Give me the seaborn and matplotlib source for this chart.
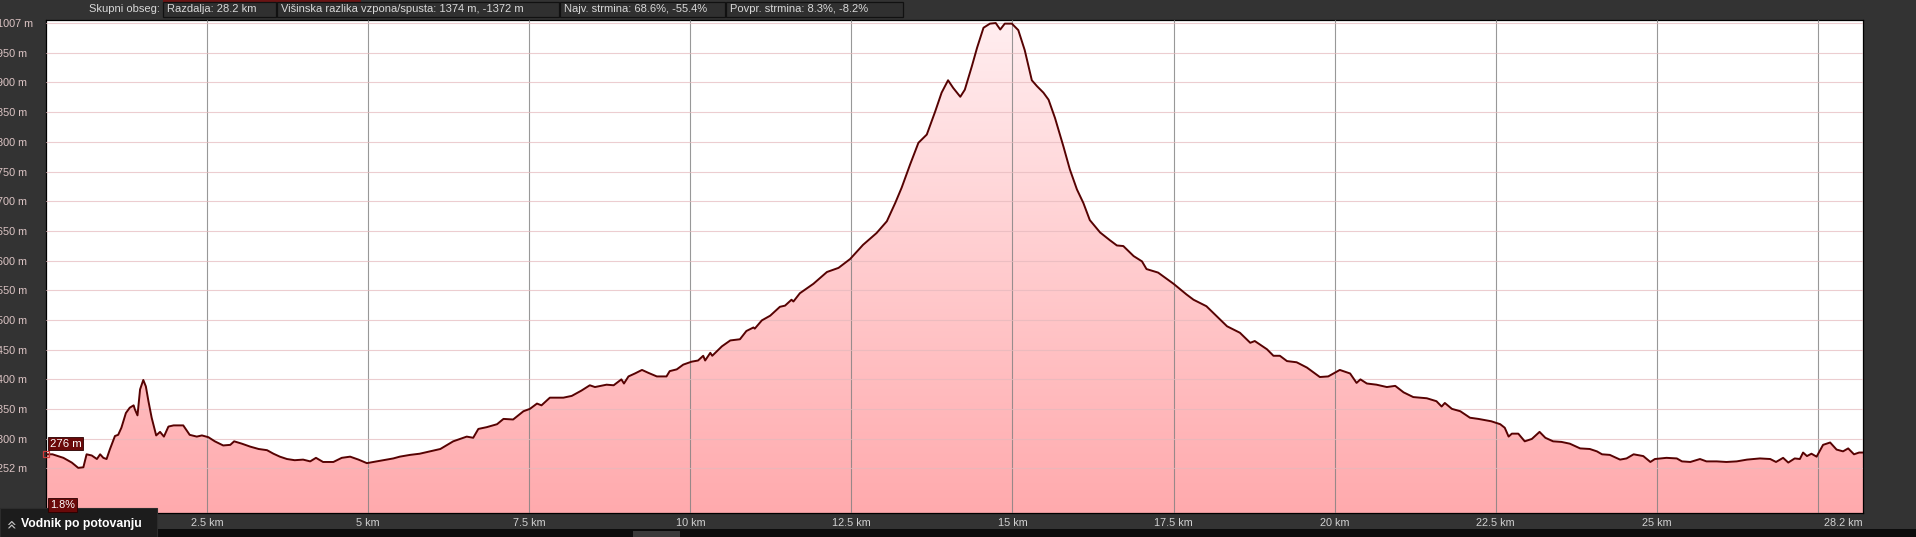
import numpy as np
import matplotlib
matplotlib.use('Agg')
import matplotlib.pyplot as plt
from matplotlib.patches import Rectangle
import seaborn as sns

# Podatki profila (razdalja v km, visina v m)
km = [0.00, 0.10, 0.27, 0.40, 0.50, 0.58, 0.63, 0.71, 0.79, 0.84, 0.89, 0.94, 0.99, 1.07, 1.12, 1.17,
      1.24, 1.30, 1.36, 1.38, 1.42, 1.46, 1.51, 1.55, 1.59, 1.64, 1.71, 1.77, 1.83, 1.90, 1.98, 2.13,
      2.23, 2.34, 2.42, 2.52, 2.62, 2.75, 2.86, 2.92, 3.04, 3.17, 3.30, 3.43, 3.53, 3.63, 3.74, 3.86,
      3.99, 4.10, 4.19, 4.30, 4.46, 4.59, 4.72, 4.85, 4.98, 5.08, 5.24, 5.39, 5.49, 5.65, 5.80, 6.12,
      6.32, 6.53, 6.63, 6.71, 6.84, 7.00, 7.10, 7.25, 7.41, 7.51, 7.62, 7.69, 7.82, 8.03, 8.16, 8.31,
      8.44, 8.52, 8.70, 8.81, 8.93, 8.97, 9.04, 9.14, 9.25, 9.35, 9.48, 9.63, 9.68, 9.79, 9.89, 10.02,
      10.12, 10.20, 10.23, 10.31, 10.34, 10.49, 10.62, 10.77, 10.87, 10.98, 11.00, 11.11, 11.24, 11.39,
      11.47, 11.57, 11.60, 11.70, 11.91, 12.12, 12.30, 12.48, 12.68, 12.89, 13.05, 13.18, 13.28, 13.41,
      13.54, 13.67, 13.80, 13.90, 14.00, 14.08, 14.19, 14.26, 14.37, 14.45, 14.55, 14.65, 14.74, 14.81,
      14.88, 14.99, 15.09, 15.19, 15.30, 15.38, 15.48, 15.56, 15.66, 15.79, 15.89, 16.00, 16.10, 16.20,
      16.36, 16.51, 16.62, 16.72, 16.88, 17.01, 17.08, 17.26, 17.50, 17.70, 17.81, 18.01, 18.33, 18.53,
      18.69, 18.76, 18.95, 19.05, 19.15, 19.26, 19.41, 19.57, 19.72, 19.77, 19.90, 20.08, 20.24, 20.34,
      20.40, 20.50, 20.65, 20.81, 20.94, 21.07, 21.22, 21.43, 21.58, 21.66, 21.71, 21.82, 21.95, 22.10,
      22.23, 22.43, 22.57, 22.64, 22.70, 22.75, 22.85, 22.95, 23.06, 23.18, 23.27, 23.39, 23.52, 23.65,
      23.81, 23.96, 24.07, 24.15, 24.27, 24.43, 24.53, 24.64, 24.79, 24.90, 24.97, 25.15, 25.31, 25.39,
      25.52, 25.67, 25.77, 25.93, 26.08, 26.24, 26.40, 26.60, 26.76, 26.85, 26.96, 27.04, 27.14, 27.22,
      27.27, 27.33, 27.40, 27.48, 27.58, 27.69, 27.79, 27.89, 27.97, 28.06, 28.14, 28.20]
visina = [276, 276, 270, 262, 253, 254, 276, 274, 268, 276, 270, 268, 284, 307, 309, 321,
          346, 355, 359, 352, 342, 386, 402, 391, 366, 338, 308, 314, 306, 323, 325, 325,
          309, 306, 308, 305, 298, 291, 292, 298, 294, 289, 285, 283, 277, 272, 268, 266,
          267, 264, 270, 263, 263, 270, 272, 267, 261, 263, 266, 269, 272, 275, 277, 285,
          298, 306, 304, 319, 322, 327, 336, 335, 349, 353, 362, 359, 372, 372, 375, 384,
          393, 390, 394, 393, 403, 396, 408, 413, 419, 414, 408, 408, 417, 420, 428, 433,
          435, 443, 435, 448, 443, 459, 469, 471, 485, 491, 489, 503, 511, 526,
          528, 538, 535, 549, 565, 585, 592, 607, 631, 651, 671, 702, 728, 767,
          804, 818, 857, 889, 910, 897, 882, 894, 934, 965, 999, 1006, 1007, 996,
          1006, 1006, 995, 961, 910, 900, 889, 877, 846, 798, 759, 725, 702, 673,
          652, 639, 630, 629, 612, 603, 590, 584, 565, 547, 538, 527, 493, 482,
          465, 468, 454, 443, 443, 434, 432, 423, 411, 407, 408, 419, 413, 397,
          403, 396, 394, 390, 392, 381, 373, 371, 366, 357, 363, 353, 349, 338,
          336, 332, 327, 321, 306, 311, 311, 298, 302, 314, 304, 298, 297, 294,
          286, 285, 281, 276, 275, 267, 269, 276, 273, 263, 268, 270, 269, 264,
          263, 268, 264, 264, 263, 264, 267, 269, 268, 263, 270, 262, 269, 268,
          279, 273, 277, 272, 292, 296, 284, 281, 286, 276, 279, 279]

y_oznake = ['1007 m', '950 m', '900 m', '850 m', '800 m', '750 m', '700 m', '650 m',
            '600 m', '550 m', '500 m', '450 m', '400 m', '350 m', '300 m', '252 m']
x_oznake = ['2.5 km', '5 km', '7.5 km', '10 km', '12.5 km', '15 km', '17.5 km', '20 km',
            '22.5 km', '25 km', '', '28.2 km']
x_pozicije = [2.5, 5, 7.5, 10, 12.5, 15, 17.5, 20, 22.5, 25, 27.5, 28.2]

povzetek = ['Razdalja: 28.2 km', 'Višinska razlika vzpona/spusta: 1374 m, -1372 m',
            'Najv. strmina: 68.6%, -55.4%', 'Povpr. strmina: 8.3%, -8.2%']

sns.set_style('white')
plt.rcParams['font.family'] = ['Liberation Sans', 'DejaVu Sans']

W, H = 1916, 537
Y_MIN, Y_MAX = 176.5, 1013

def fx(x):
    return x / W

def fy(y):
    return 1 - y / H

fig = plt.figure(figsize=(W / 100, H / 100), dpi=100, facecolor='#333333')
ax = fig.add_axes([fx(46), fy(513), (1863 - 46) / W, (513 - 19.5) / H])
ax.set_facecolor('white')

# Gradient pod krivuljo
poly = ax.fill_between(km, visina, Y_MIN, color='none', lw=0)
top = np.array([255, 238, 240]) / 255
bot = np.array([255, 170, 173]) / 255
t = np.linspace(0, 1, 256)[:, None]
grad = (bot + (top - bot) * t)[:, None, :]
img = ax.imshow(grad, extent=[0, 28.2, Y_MIN, Y_MAX], aspect='auto', origin='lower',
                zorder=1, interpolation='bilinear')
img.set_clip_path(poly.get_paths()[0], transform=ax.transData)

sns.lineplot(x=km, y=visina, sort=False, estimator=None, color='#560202', lw=1.4,
             ax=ax, zorder=4)

ax.set_xlim(0, 28.2)
ax.set_ylim(Y_MIN, Y_MAX)

# Mreza
ax.set_yticks(np.linspace(1007, 252, 16))
ax.set_yticklabels(y_oznake)
ax.set_xticks(x_pozicije)
ax.set_xticklabels(x_oznake)
ax.set_axisbelow(False)
ax.grid(axis='y', color='#e4b9bd', lw=0.8, alpha=0.7, zorder=2)
ax.grid(axis='x', color='#7f7f7f', lw=0.8, alpha=0.8, zorder=2)
ax.get_xgridlines()[-1].set_visible(False)

ax.tick_params(axis='y', length=0, pad=35, labelsize=7.8, labelcolor='#dcc4c4')
for lbl in ax.get_yticklabels():
    lbl.set_ha('left')
ax.tick_params(axis='x', length=0, pad=3.5, labelsize=7.8, labelcolor='#d2d2d2')
ax.get_xticklabels()[-1].set_ha('right')

for s in ax.spines.values():
    s.set_color('#000000')
    s.set_linewidth(0.9)

# Zacetna tocka in oznake
ax.plot(km[0], visina[0], marker='s', mfc='none', mec='#d03a3a', ms=4.5, mew=0.9,
        clip_on=False, zorder=6)
ax.text(0.06, 294, '276 m', color='white', fontsize=8.2, va='center', ha='left', zorder=7,
        bbox=dict(boxstyle='square,pad=0.15', fc='#6a0909', ec='#2a0000', lw=0.6))
fig.text(fx(50), fy(505), '1.8%', color='white', fontsize=7.8, va='center', ha='left',
         bbox=dict(boxstyle='square,pad=0.15', fc='#6a0909', ec='#2a0000', lw=0.6))

# Zgornja vrstica s povzetkom
fig.add_artist(Rectangle((fx(163), fy(3)), (361 - 163) / W, 3 / H, transform=fig.transFigure,
                         fc='#6a1414', ec='none'))
fig.text(fx(160), fy(9), 'Skupni obseg:', color='#d8d8d8', fontsize=8, ha='right', va='center')
meje = [163, 277, 560, 726, 904]
for i, besedilo in enumerate(povzetek):
    x0, x1 = meje[i], meje[i + 1] - 1
    fig.add_artist(Rectangle((fx(x0), fy(17)), (x1 - x0) / W, 15.5 / H,
                             transform=fig.transFigure, fc='#303030', ec='#111111', lw=0.9))
    fig.text(fx(x0 + 4), fy(9), besedilo, color='#d8d8d8', fontsize=8, ha='left', va='center')

# Spodnji pas
fig.add_artist(Rectangle((0, 0), 1, 8 / H, transform=fig.transFigure, fc='#0c0c0c', ec='none'))
fig.add_artist(Rectangle((fx(633), 0), 47 / W, 6 / H, transform=fig.transFigure,
                         fc='#3a3a3a', ec='none'))
fig.add_artist(Rectangle((0, 0), 157 / W, 29 / H, transform=fig.transFigure,
                         fc='#1c1c1c', ec='#2c2c2c', lw=0.8))
fig.text(fx(12), fy(523), '»', color='#c4c4c4', fontsize=12, rotation=90, ha='center',
         va='center', family='DejaVu Sans')
fig.text(fx(21), fy(524), 'Vodnik po potovanju', color='white', fontsize=8.8,
         fontweight='bold', ha='left', va='center')

fig.savefig('out.png', dpi=100, facecolor=fig.get_facecolor())
